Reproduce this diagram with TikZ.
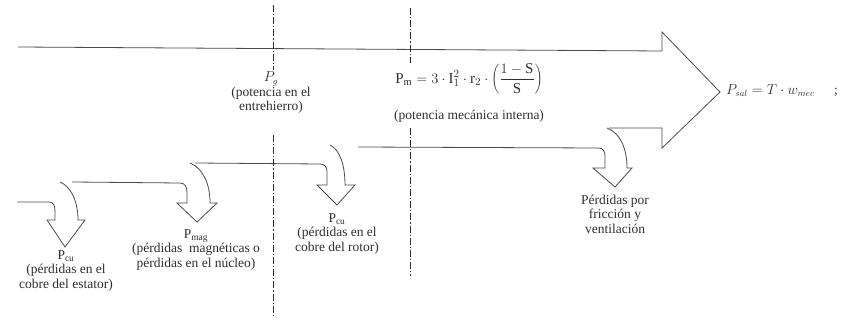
\documentclass[tikz,border=0pt]{standalone}
\usepackage{fontspec}
\setmainfont{Liberation Serif}
\definecolor{ink}{HTML}{2E2E2E}
\definecolor{inkfaint}{HTML}{4A4A4A}

\begin{document}
\begin{tikzpicture}[x=1pt,y=-1pt,font=\rmfamily\fontsize{13.5}{14.5}\selectfont,
  flow/.style={inkfaint,line width=0.8pt,line join=miter},
  divide/.style={ink,line width=0.6pt,dash pattern=on 7pt off 2pt on 1.2pt off 2pt},
  lbl/.style={ink,align=center,inner sep=0pt}]
  \useasboundingbox (0,0) rectangle (843,320);
  % top edge of the power flow and the output arrowhead
  \draw[flow] (18,47) -- (662,51) -- (662,32) -- (720,92) -- (662,148) -- (662,128) -- (609,128);
  % stator copper losses
  \draw[flow] (17,202) -- (49,202) .. controls (54,202) and (55,206) .. (55,212) -- (55,220)
    -- (47,220) -- (65,247) -- (85,220) -- (78,220) .. controls (78,200) and (70,186) .. (60,182);
  % magnetic losses
  \draw[flow] (72,182) -- (180,183) .. controls (185,183) and (187,187) .. (187,192) -- (187,203)
    -- (177,203) -- (197,222) -- (217,203) -- (210,203) .. controls (210,182) and (202,168) .. (190,163);
  % rotor copper losses
  \draw[flow] (195,163) -- (320,164) .. controls (325,164) and (327,167) .. (327,172) -- (327,185)
    -- (317,185) -- (337,205) -- (355,185) -- (345,185) .. controls (345,165) and (340,150) .. (330,145);
  % friction and windage losses
  \draw[flow] (358,147) -- (598,148) .. controls (603,148) and (605,151) .. (605,156) -- (605,168)
    -- (593,168) -- (615,187) -- (632,168) -- (627,168) .. controls (627,148) and (620,133) .. (607,128);
  % dash-dot dividers
  \draw[divide] (273,5) -- (273,70);
  \draw[divide] (273,135) -- (273,318);
  \draw[divide] (410,8) -- (410,63);
  \draw[divide] (410,128) -- (410,276);
  % labels
  \node[lbl] (airgap) at (271,93) {$P_g$\\(potencia en el\\entrehierro)};
  \node[lbl,font=\rmfamily\fontsize{15}{16}\selectfont] (pmformula) at (469,79)
    {$\mathrm{P_m} = 3\cdot\mathrm{I}_{1}^{2}\cdot\mathrm{r}_{2}\cdot\left(\displaystyle\frac{1-\mathrm{S}}{\mathrm{S}}\right)$};
  \node[lbl] (pminterna) at (469,116) {(potencia mecánica interna)};
  \node[lbl,anchor=west] (pout) at (726,91) {$P_{sal} = T\cdot w_{mec}$};
  \node[lbl] (semicolon) at (836,92) {;};
  \node[lbl] (pcustator) at (66,271) {$\mathrm{P_{cu}}$\\(pérdidas en el\\cobre del estator)};
  \node[lbl] (pmag) at (196,250) {$\mathrm{P_{mag}}$\\(pérdidas\ \ magnéticas o\\pérdidas en el núcleo)};
  \node[lbl] (pcurotor) at (337,234) {$\mathrm{P_{cu}}$\\(pérdidas en el\\cobre del rotor)};
  \node[lbl] (pfw) at (615,214) {Pérdidas por\\fricción y\\ventilación};
\end{tikzpicture}
\end{document}
